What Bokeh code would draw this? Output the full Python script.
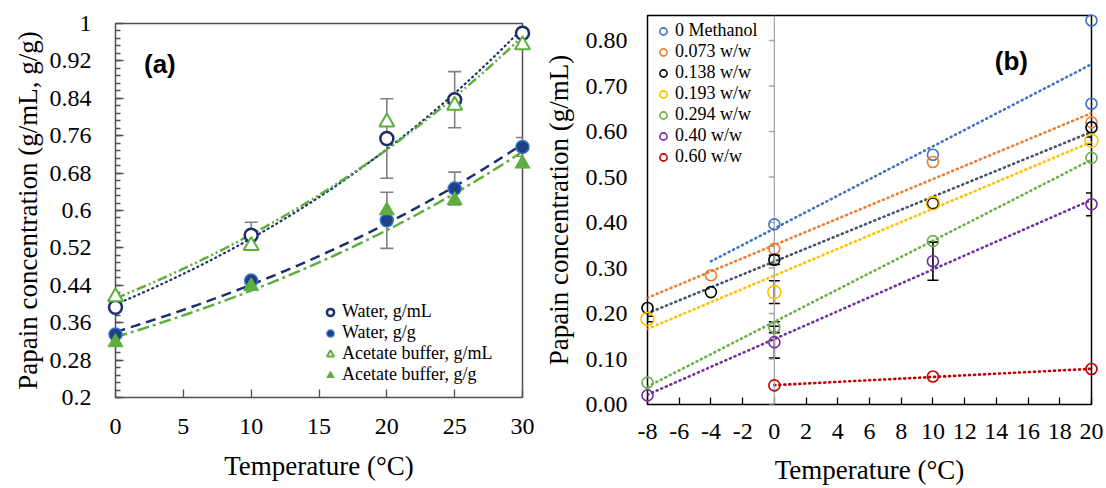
import numpy as np
from bokeh.plotting import figure
from bokeh.models import (Range1d, FixedTicker, Legend, LegendItem, Whisker, TeeHead,
                          ColumnDataSource, Label, Span)
from bokeh.embed import file_html
from bokeh.resources import INLINE

# ---------------- Panel (a) data ----------------
temp_a = [0, 10, 20, 25, 30]
water_gml = [0.393, 0.547, 0.754, 0.837, 0.979]
water_gg = [0.335, 0.450, 0.579, 0.647, 0.736]
acetate_gml = [0.415, 0.525, 0.789, 0.825, 0.954]
acetate_gg = [0.318, 0.438, 0.600, 0.622, 0.700]
# error bars (temperature, half-width)
err_gml_t = [10, 20, 25]
err_gml = [0.028, 0.085, 0.060]
err_gg_t = [20, 25, 30]
err_gg = [0.060, 0.035, 0.020]
a_legend = ["Water, g/mL", "Water, g/g", "Acetate buffer, g/mL", "Acetate buffer, g/g"]
a_xticks = [0, 5, 10, 15, 20, 25, 30]
a_yticks = [0.2, 0.28, 0.36, 0.44, 0.52, 0.6, 0.68, 0.76, 0.84, 0.92, 1.0]
a_ylabels = ["0.2", "0.28", "0.36", "0.44", "0.52", "0.6", "0.68", "0.76", "0.84", "0.92", "1"]

# ---------------- Panel (b) data ----------------
b_names = ["0 Methanol", "0.073 w/w", "0.138 w/w", "0.193 w/w", "0.294 w/w", "0.40 w/w", "0.60 w/w"]
b_x = [
    [0, 10, 20, 20],
    [-4, 0, 10, 20],
    [-8, -4, 0, 10, 20],
    [-8, 0, 10, 20],
    [-8, 0, 10, 20],
    [-8, 0, 10, 20],
    [0, 10, 20],
]
b_y = [
    [0.396, 0.549, 0.844, 0.661],
    [0.284, 0.342, 0.533, 0.620],
    [0.212, 0.247, 0.318, 0.442, 0.609],
    [0.188, 0.247, 0.442, 0.580],
    [0.048, 0.170, 0.359, 0.542],
    [0.020, 0.137, 0.315, 0.440],
    [0.042, 0.0615, 0.078],
]
b_fit_start = [-4, -8, -8, -8, -8, -8, 0]
b_fit_end = 20
# error bars
b_err_t = [0, 0, 0, 0, 10, 20, -8, 20]
b_err_y = [0.247, 0.170, 0.137, 0.318, 0.315, 0.440, 0.188, 0.580]
b_err = [0.025, 0.012, 0.035, 0.010, 0.042, 0.025, 0.006, 0.008]
b_xticks = [-8, -6, -4, -2, 0, 2, 4, 6, 8, 10, 12, 14, 16, 18, 20]
b_yticks = [0.0, 0.1, 0.2, 0.3, 0.4, 0.5, 0.6, 0.7, 0.8]
b_ylabels = ["0.00", "0.10", "0.20", "0.30", "0.40", "0.50", "0.60", "0.70", "0.80"]

b_marker_colors = ["#4472C4", "#ED7D31", "#000000", "#FFC000", "#70AD47", "#7030A0", "#C00000"]
b_line_colors = ["#4472C4", "#ED7D31", "#44546A", "#FFC000", "#70AD47", "#7030A0", "#C00000"]
b_sizes = [11, 11, 11, 13, 11, 11, 11]

SERIF = "Liberation Serif"
NAVY = "#1B2F6B"
NAVY_FILL = "#1F3F87"
NAVY_EDGE = "#3477C8"
GREEN = "#5DAE3C"
GREY = "#808080"


def style_axes(p, frame_color, tick_color):
    p.grid.visible = False
    p.outline_line_color = frame_color
    p.outline_line_width = 1.5
    p.background_fill_color = "white"
    p.border_fill_color = "white"
    for ax in (p.xaxis[0], p.yaxis[0]):
        ax.axis_line_color = None
        ax.major_label_text_font = SERIF
        ax.major_label_text_font_size = "24px"
        ax.major_label_text_color = "black"
        ax.axis_label_text_font = SERIF
        ax.axis_label_text_font_size = "27px"
        ax.axis_label_text_font_style = "normal"
        ax.axis_label_text_color = "black"
        ax.major_tick_line_color = tick_color
        ax.minor_tick_line_color = tick_color
        ax.major_tick_line_width = 1.3
        ax.minor_tick_line_width = 1.3


def exp_fit(x, y, xs):
    k, ln_a = np.polyfit(np.asarray(x, float), np.log(np.asarray(y, float)), 1)
    return np.exp(ln_a + k * xs)


def make_legend(labels, renderers, loc):
    return Legend(items=[LegendItem(label=l, renderers=[r]) for l, r in zip(labels, renderers)],
                  location=loc, border_line_color=None, background_fill_alpha=0,
                  padding=0, margin=0, spacing=0, label_standoff=2,
                  glyph_width=20, glyph_height=18, label_height=18,
                  label_text_font=SERIF, label_text_font_size="18px",
                  label_text_line_height=1.0, label_text_color="black")


# ======================= Panel (a) =======================
pa = figure(width=540, height=488, x_range=Range1d(0, 30), y_range=Range1d(0.2, 1.0),
            output_backend="svg", toolbar_location=None,
            min_border_left=115, min_border_right=18, min_border_top=23, min_border_bottom=91)
style_axes(pa, "#505050", "#505050")
pa.xaxis.axis_label = "Temperature (°C)"
pa.yaxis.axis_label = "Papain concentration (g/mL, g/g)"
pa.xaxis.ticker = FixedTicker(ticks=a_xticks)
step_a = a_yticks[1] - a_yticks[0]
minor_a = [a_yticks[0] + i * step_a / 5 for i in range(5 * (len(a_yticks) - 1) + 1)]
pa.yaxis.ticker = FixedTicker(ticks=a_yticks, minor_ticks=minor_a)
pa.yaxis.major_label_overrides = {t: l for t, l in zip(a_yticks, a_ylabels)}
pa.xaxis.major_tick_in = 8
pa.xaxis.major_tick_out = 0
pa.xaxis.minor_tick_in = 0
pa.xaxis.minor_tick_out = 0
pa.yaxis.major_tick_in = 8
pa.yaxis.major_tick_out = 0
pa.yaxis.minor_tick_in = 5
pa.yaxis.minor_tick_out = 0
pa.xaxis.major_label_standoff = 21
pa.yaxis.major_label_standoff = 24
pa.xaxis.axis_label_standoff = 14
pa.yaxis.axis_label_standoff = 4

xs_a = np.linspace(0, 30, 121)
pa.line(xs_a, exp_fit(temp_a, water_gml, xs_a), line_color=NAVY, line_width=2.2,
        line_dash="1 4", line_cap="round")
pa.line(xs_a, exp_fit(temp_a, acetate_gml, xs_a), line_color=GREEN, line_width=2.5,
        line_dash="10 3 2 3 2 3")
pa.line(xs_a, exp_fit(temp_a, water_gg, xs_a), line_color=NAVY, line_width=2.5,
        line_dash="10 6")
pa.line(xs_a, exp_fit(temp_a, acetate_gg, xs_a), line_color=GREEN, line_width=2.5,
        line_dash="12 4 3 4")

gml_base = [water_gml[temp_a.index(t)] for t in err_gml_t]
gg_base = [water_gg[temp_a.index(t)] for t in err_gg_t]
for ts, base, e in ((err_gml_t, gml_base, err_gml), (err_gg_t, gg_base, err_gg)):
    src = ColumnDataSource(dict(x=ts, upper=[b + d for b, d in zip(base, e)],
                                lower=[b - d for b, d in zip(base, e)]))
    pa.add_layout(Whisker(base="x", upper="upper", lower="lower", source=src,
                          line_color=GREY, line_width=1.6,
                          upper_head=TeeHead(size=13, line_color=GREY, line_width=1.6),
                          lower_head=TeeHead(size=13, line_color=GREY, line_width=1.6)))

ra1 = pa.scatter(temp_a, water_gml, marker="circle", size=13, fill_color="white",
                 line_color=NAVY, line_width=2.5, level="overlay")
ra2 = pa.scatter(temp_a, water_gg, marker="circle", size=13, fill_color=NAVY_FILL,
                 line_color=NAVY_EDGE, line_width=1.5, level="overlay")
ra3 = pa.scatter(temp_a, acetate_gml, marker="triangle", size=15, fill_color="white",
                 line_color=GREEN, line_width=2, level="overlay")
ra4 = pa.scatter(temp_a, acetate_gg, marker="triangle", size=15, fill_color=GREEN,
                 line_color=GREEN, line_width=1, level="overlay")

pa.add_layout(make_legend(a_legend, [ra1, ra2, ra3, ra4], (205, 12)))
pa.add_layout(Label(x=2.1, y=0.913, text="(a)", text_font="Liberation Sans",
                    text_font_style="bold", text_font_size="26px", text_baseline="middle",
                    text_color="black"))

# ======================= Panel (b) =======================
pb = figure(width=566, height=488, x_range=Range1d(-8, 20), y_range=Range1d(0, 0.855),
            output_backend="svg", toolbar_location=None,
            min_border_left=105, min_border_right=15, min_border_top=15, min_border_bottom=84)
style_axes(pb, "black", "black")
pb.xaxis.axis_label = "Temperature (°C)"
pb.yaxis.axis_label = "Papain concentration (g/mL)"
pb.xaxis.ticker = FixedTicker(ticks=b_xticks)
pb.xaxis.major_label_overrides = {t: str(t) for t in b_xticks}
pb.yaxis.ticker = FixedTicker(ticks=b_yticks)
pb.yaxis.major_label_overrides = {t: l for t, l in zip(b_yticks, b_ylabels)}
pb.xaxis.major_tick_in = 7
pb.xaxis.major_tick_out = 0
pb.xaxis.minor_tick_in = 0
pb.xaxis.minor_tick_out = 0
pb.yaxis.major_tick_in = 0
pb.yaxis.major_tick_out = 0
pb.yaxis.minor_tick_in = 0
pb.yaxis.minor_tick_out = 0
pb.xaxis.major_label_standoff = 19
pb.xaxis.major_label_text_line_height = 1.0
pb.xaxis.axis_label_text_line_height = 1.0
pb.xaxis.axis_label_standoff = 13
pb.yaxis.major_label_standoff = 20
pb.yaxis.axis_label_standoff = 9

# zero line with its tick marks
pb.add_layout(Span(location=0, dimension="height", line_color="#A6A6A6", line_width=1.3))
pb.segment(x0=[0] * len(b_yticks), y0=b_yticks, x1=[-0.35] * len(b_yticks), y1=b_yticks,
           line_color="#A6A6A6", line_width=1.3)

# trend lines
for xs, ys, x0, c in zip(b_x, b_y, b_fit_start, b_line_colors):
    slope, icpt = np.polyfit(xs, ys, 1)
    xx = np.array([x0, b_fit_end], float)
    pb.line(xx, icpt + slope * xx, line_color=c, line_width=2.6, line_dash="1 4",
            line_cap="round")

src_b = ColumnDataSource(dict(x=b_err_t, upper=[y + e for y, e in zip(b_err_y, b_err)],
                              lower=[y - e for y, e in zip(b_err_y, b_err)]))
pb.add_layout(Whisker(base="x", upper="upper", lower="lower", source=src_b,
                      line_color="black", line_width=1.6,
                      upper_head=TeeHead(size=11, line_color="black", line_width=1.6),
                      lower_head=TeeHead(size=11, line_color="black", line_width=1.6)))

rb = []
for xs, ys, c, s in zip(b_x, b_y, b_marker_colors, b_sizes):
    rb.append(pb.scatter(xs, ys, marker="circle", size=s, fill_color=None, line_color=c,
                         line_width=1.6, level="overlay"))

pb.add_layout(make_legend(b_names, rb, (6, 237)))
pb.add_layout(Label(x=13.9, y=0.756, text="(b)", text_font="Liberation Sans",
                    text_font_style="bold", text_font_size="26px", text_baseline="middle",
                    text_color="black"))

# the two panels sit side by side, each keeping its own frame
SIDE_BY_SIDE = ("{% block postamble %}<style>body { display: flex !important; "
                "flex-direction: row; align-items: flex-start; }</style>{% endblock %}")
open("out.html", "w").write(file_html([pa, pb], INLINE, template=SIDE_BY_SIDE))
